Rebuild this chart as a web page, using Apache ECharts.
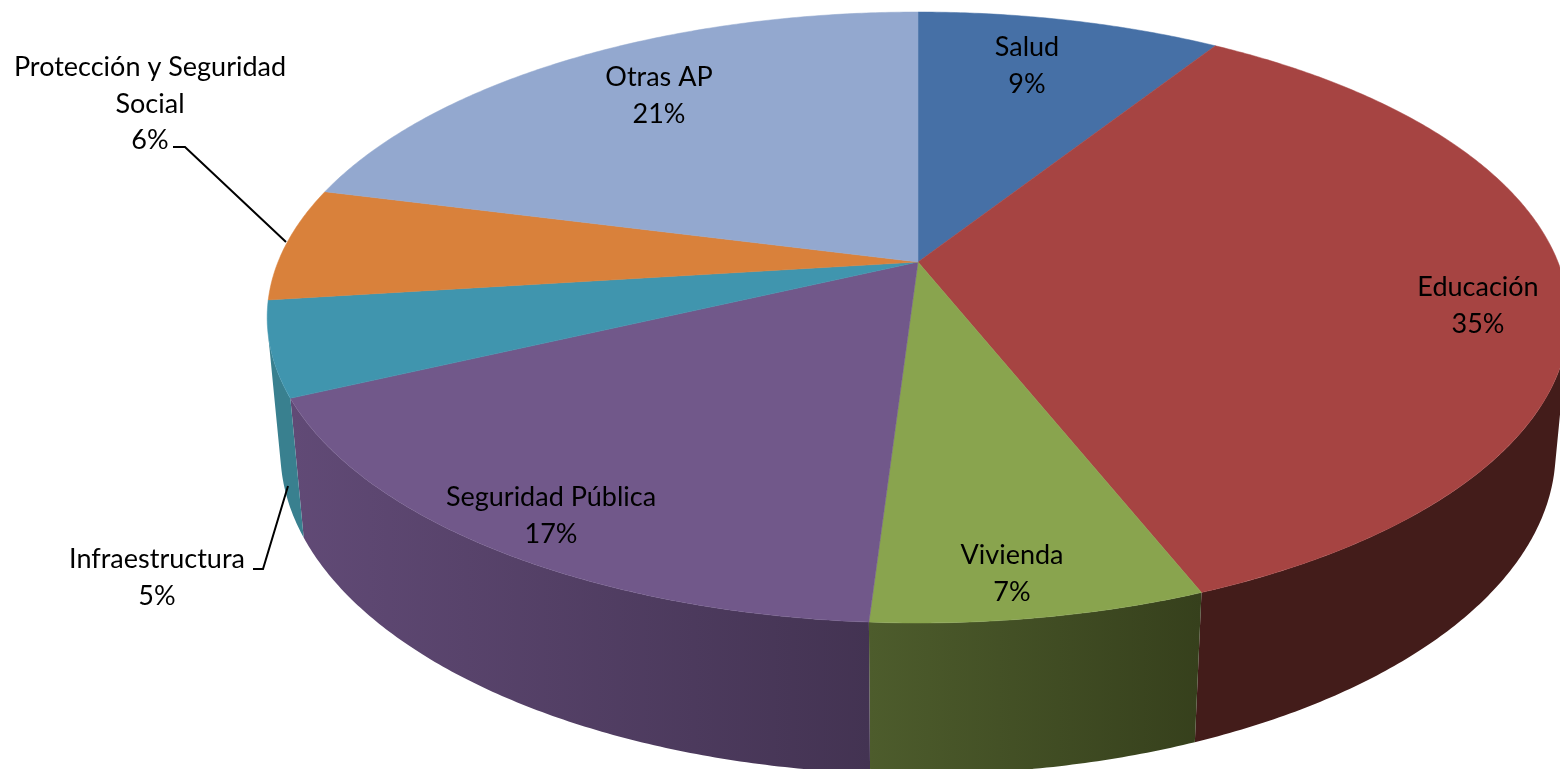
<!DOCTYPE html>
<html>
<head>
<meta charset="utf-8">
<title>Gasto por función</title>
<style>
html,body{margin:0;padding:0;background:#fff;overflow:hidden}
#chart{width:1560px;height:769px}
</style>
<script src="https://cdn.jsdelivr.net/npm/echarts@6/dist/echarts.min.js"></script>
</head>
<body>
<div id="chart"></div>
<script>
const categories = ['Salud','Educación','Vivienda','Seguridad Pública','Infraestructura','Protección y Seguridad\nSocial','Otras AP']
const shares = [9,35,7,17,5,6,21]

const topColors = ['#4670A6','#A64442','#89A44E','#71588A','#4095AE','#D9813B','#93A8CF']
// side wall colours, left and right end (the rim of slice 5 reads as teal in the picture)
const sideLeft = ['#2A4365','#431C1A','#4D5C2C','#614A76','#39808F','#39808F','#5A6A87']
const sideRight = ['#2A4365','#431C1A','#36401C','#433352','#39808F','#39808F','#5A6A87']

// label centres and leader lines, in page pixels
const labelAt = [[1027,66],[1478,306],[1012,574],[551,516],[157,578],[150,104],[659,96]]
const leaders = {4:[[253,569],[263,569],[288,486]],5:[[173,147],[185,147],[286,242]]}

// projective view of the disc, fitted to the picture
const view = {cx:918,cy:262,R:640,H:295.4,k:0.1817,m:0.02,n:134}

function project(deg, level){
  const a = deg*Math.PI/180, u = Math.sin(a), v = Math.cos(a)
  const w = 1+view.k*v+view.m*level
  return [view.cx+view.R*u/w, view.cy+(-view.H*v+view.n*level)/w]
}
function arc(from, to, level){
  const pts = [], n = Math.max(2, Math.ceil((to-from)/0.5))
  for(let i=0;i<=n;i++) pts.push(project(from+(to-from)*i/n, level))
  return pts
}
const total = shares.reduce((a,b)=>a+b,0)
function spanOf(i){
  let sum = 0
  for(let j=0;j<i;j++) sum += shares[j]
  return [sum/total*360, (sum+shares[i])/total*360]
}
// wall faces the viewer where the rim direction and the vertical edge turn the right way
function facesViewer(deg){
  const a = project(deg,0), b = project(deg+0.1,0), c = project(deg,1)
  return (b[0]-a[0])*(c[1]-a[1])-(b[1]-a[1])*(c[0]-a[0]) < 0
}
function visiblePart(from, to){
  let lo = null, hi = null
  for(let d=from;d<=to;d+=0.1){
    if(facesViewer(d)){ if(lo===null) lo = d; hi = d }
  }
  return lo===null ? null : [lo, Math.min(to, hi+0.1)]
}

function renderSide(params, api){
  const i = params.dataIndex
  const [from,to] = spanOf(i)
  const part = visiblePart(from,to)
  if(!part) return null
  const upper = arc(part[0],part[1],0), lower = arc(part[0],part[1],1).reverse()
  return {
    type:'polygon',
    shape:{points:upper.concat(lower)},
    style:{fill:new echarts.graphic.LinearGradient(0,0,1,0,[{offset:0,color:sideLeft[i]},{offset:1,color:sideRight[i]}])}
  }
}
function renderTop(params, api){
  const i = params.dataIndex
  const [from,to] = spanOf(i)
  return {
    type:'polygon',
    shape:{points:[[view.cx,view.cy]].concat(arc(from,to,0))},
    style:{fill:topColors[i],stroke:topColors[i],lineWidth:0.5}
  }
}
function renderLabel(params, api){
  const i = params.dataIndex
  const children = [{
    type:'text',
    style:{
      x:labelAt[i][0],y:labelAt[i][1],
      text:categories[i]+'\n'+Math.round(api.value(0)/total*100)+'%',
      fill:'#000',font:'27px Lato, "Open Sans", sans-serif',
      align:'center',verticalAlign:'middle',lineHeight:36.5
    }
  }]
  if(leaders[i]) children.push({
    type:'polyline',
    shape:{points:leaders[i]},
    style:{fill:null,stroke:'#000',lineWidth:2}
  })
  return {type:'group',children}
}

const chart = echarts.init(document.getElementById('chart'), null, {renderer:'canvas'})
chart.setOption({
  animation:false,
  backgroundColor:'#fff',
  series:[
    {type:'custom',coordinateSystem:'none',data:shares,renderItem:renderSide,z:1,silent:true},
    {type:'custom',coordinateSystem:'none',data:shares,renderItem:renderTop,z:2,silent:true},
    {type:'custom',coordinateSystem:'none',data:shares,renderItem:renderLabel,z:3,silent:true}
  ]
})
</script>
</body>
</html>
